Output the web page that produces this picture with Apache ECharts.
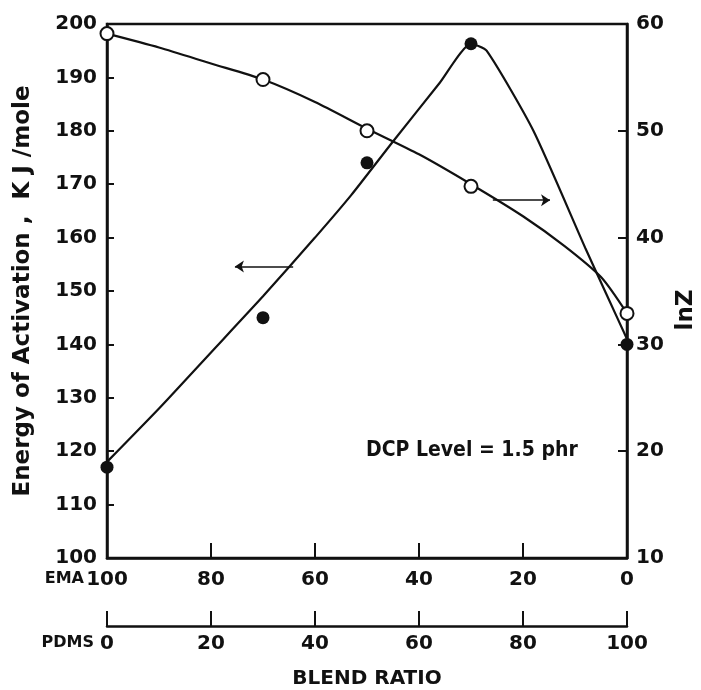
<!DOCTYPE html>
<html lang="en">
<head>
<meta charset="UTF-8">
<script src="https://cdn.jsdelivr.net/npm/echarts@6/dist/echarts.min.js"></script>
<title>Blend ratio</title>
<style>
  html, body { margin: 0; padding: 0; background: #fff; }
</style>
</head>
<body>
<div id="main" style="width: 701px;height:690px;"></div>
<script type="text/javascript">
    // measured points (x = PDMS content)
    var pdms = [0, 30, 50, 70, 100];
    var energy = [117, 145, 174, 196.3, 140];   // KJ/mole, filled dots
    var lnZ = [59.1, 54.8, 50, 44.8, 32.9];     // open dots

    // hand drawn curves
    var eCurveX = [0, 10, 20, 30, 40, 47, 55, 64, 70, 73, 82, 92, 96, 100];
    var eCurveY = [118, 128, 138.5, 149, 160, 168, 178, 189, 196.3, 195, 180, 158, 149.5, 141];
    var zCurveX = [0, 10, 20, 30, 40, 50, 60, 70, 80, 88, 95, 100];
    var zCurveY = [59.1, 57.8, 56.3, 54.8, 52.7, 50.2, 47.8, 45.0, 42.0, 39.2, 36.3, 32.9];

    // arrows pointing to the axis each curve belongs to
    var leftArrow = [[35.8, 154.6], [24.6, 154.6]];
    var rightArrow = [[74.2, 43.5], [85.2, 43.5]];

    var emaTicks = [100, 80, 60, 40, 20, 0];
    var note = 'DCP Level = 1.5 phr';

    function pairs(xs, ys) {
        return xs.map(function (x, i) { return [x, ys[i]]; });
    }

    var font = 'DejaVu Sans';
    var ink = '#111';
    var myChart = echarts.init(document.getElementById('main'));

    var axisLabel = { color: ink, fontFamily: font, fontSize: 20, fontWeight: 'bold' };
    var nameStyle = { color: ink, fontFamily: font, fontWeight: 'bold' };

    var option = {
        backgroundColor: '#fff',
        animation: false,
        grid: { left: 107, right: 74, top: 24, bottom: 132, outerBoundsMode: 'none',
                show: true, borderColor: ink, borderWidth: 2.5 },
        xAxis: [{
            type: 'value', min: 0, max: 100, interval: 20, inverse: true,
            position: 'bottom',
            axisLine: { lineStyle: { color: ink, width: 2.5 } },
            axisTick: { inside: true, length: 15, lineStyle: { color: ink, width: 2 } },
            axisLabel: Object.assign({ margin: 12 }, axisLabel),
            splitLine: { show: false }
        }, {
            type: 'value', min: 0, max: 100, interval: 20,
            position: 'bottom', offset: 68,
            name: 'BLEND RATIO', nameLocation: 'middle', nameGap: 43,
            nameTextStyle: Object.assign({ fontSize: 20 }, nameStyle),
            axisLine: { onZero: false, lineStyle: { color: ink, width: 2.5 } },
            axisTick: { inside: true, length: 15, lineStyle: { color: ink, width: 2 } },
            axisLabel: Object.assign({ margin: 8 }, axisLabel),
            splitLine: { show: false }
        }],
        yAxis: [{
            type: 'value', min: 100, max: 200, interval: 10, position: 'left',
            name: 'Energy of Activation ,  K J /mole', nameLocation: 'middle', nameGap: 72,
            nameTextStyle: Object.assign({ fontSize: 23 }, nameStyle),
            axisLine: { onZero: false, lineStyle: { color: ink, width: 2.5 } },
            axisTick: { inside: true, length: 7, lineStyle: { color: ink, width: 2 } },
            axisLabel: Object.assign({ margin: 10 }, axisLabel),
            splitLine: { show: false }
        }, {
            type: 'value', min: 10, max: 60, interval: 10, position: 'right',
            name: 'lnZ', nameLocation: 'middle', nameGap: 45, nameRotate: 90,
            nameTextStyle: Object.assign({ fontSize: 23, padding: [0, 38, 0, 0] }, nameStyle),
            axisLine: { onZero: false, lineStyle: { color: ink, width: 2.5 } },
            axisTick: { inside: true, length: 9, lineStyle: { color: ink, width: 2 } },
            axisLabel: Object.assign({ margin: 9 }, axisLabel),
            splitLine: { show: false }
        }],
        series: [{
            type: 'line', xAxisIndex: 1, yAxisIndex: 0,
            data: pairs(eCurveX, eCurveY), smooth: 0.2, showSymbol: false,
            lineStyle: { color: ink, width: 2.2 },
            markLine: {
                silent: true, symbol: ['none', 'arrow'], symbolSize: 9,
                label: { show: false },
                lineStyle: { color: ink, width: 1.6, type: 'solid' },
                data: [[{ coord: leftArrow[0] }, { coord: leftArrow[1] }]]
            }
        }, {
            type: 'scatter', xAxisIndex: 1, yAxisIndex: 0,
            data: pairs(pdms, energy), symbolSize: 13,
            itemStyle: { color: ink, opacity: 1 }
        }, {
            type: 'line', xAxisIndex: 1, yAxisIndex: 1,
            data: pairs(zCurveX, zCurveY), smooth: 0.25, showSymbol: false,
            lineStyle: { color: ink, width: 2.2 },
            markLine: {
                silent: true, symbol: ['none', 'arrow'], symbolSize: 9,
                label: { show: false },
                lineStyle: { color: ink, width: 1.6, type: 'solid' },
                data: [[{ coord: rightArrow[0] }, { coord: rightArrow[1] }]]
            }
        }, {
            type: 'scatter', xAxisIndex: 1, yAxisIndex: 1,
            data: pairs(pdms, lnZ), symbolSize: 13, z: 5,
            itemStyle: { color: '#fff', borderColor: ink, borderWidth: 2, opacity: 1 }
        }]
    };
    myChart.setOption(option);

    // prefixes in front of the first tick label of each x axis, and the note
    var emaPos = myChart.convertToPixel({ xAxisIndex: 0 }, emaTicks[0]);
    var bottom = 690 - 132;
    myChart.setOption({
        graphic: [{
            type: 'text', right: 701 - (emaPos - 23), top: bottom + 13,
            style: { text: 'EMA', fill: ink, font: 'bold 16px "DejaVu Sans"' }
        }, {
            type: 'text', right: 701 - (emaPos - 13), top: bottom + 77,
            style: { text: 'PDMS', fill: ink, font: 'bold 16px "DejaVu Sans"' }
        }, {
            type: 'text',
            left: myChart.convertToPixel({ xAxisIndex: 1 }, 49.8),
            top: myChart.convertToPixel({ yAxisIndex: 0 }, 122),
            style: { text: note, fill: ink, font: 'bold 21px "DejaVu Sans Condensed", "DejaVu Sans"' }
        }]
    });
</script>
</body>
</html>
